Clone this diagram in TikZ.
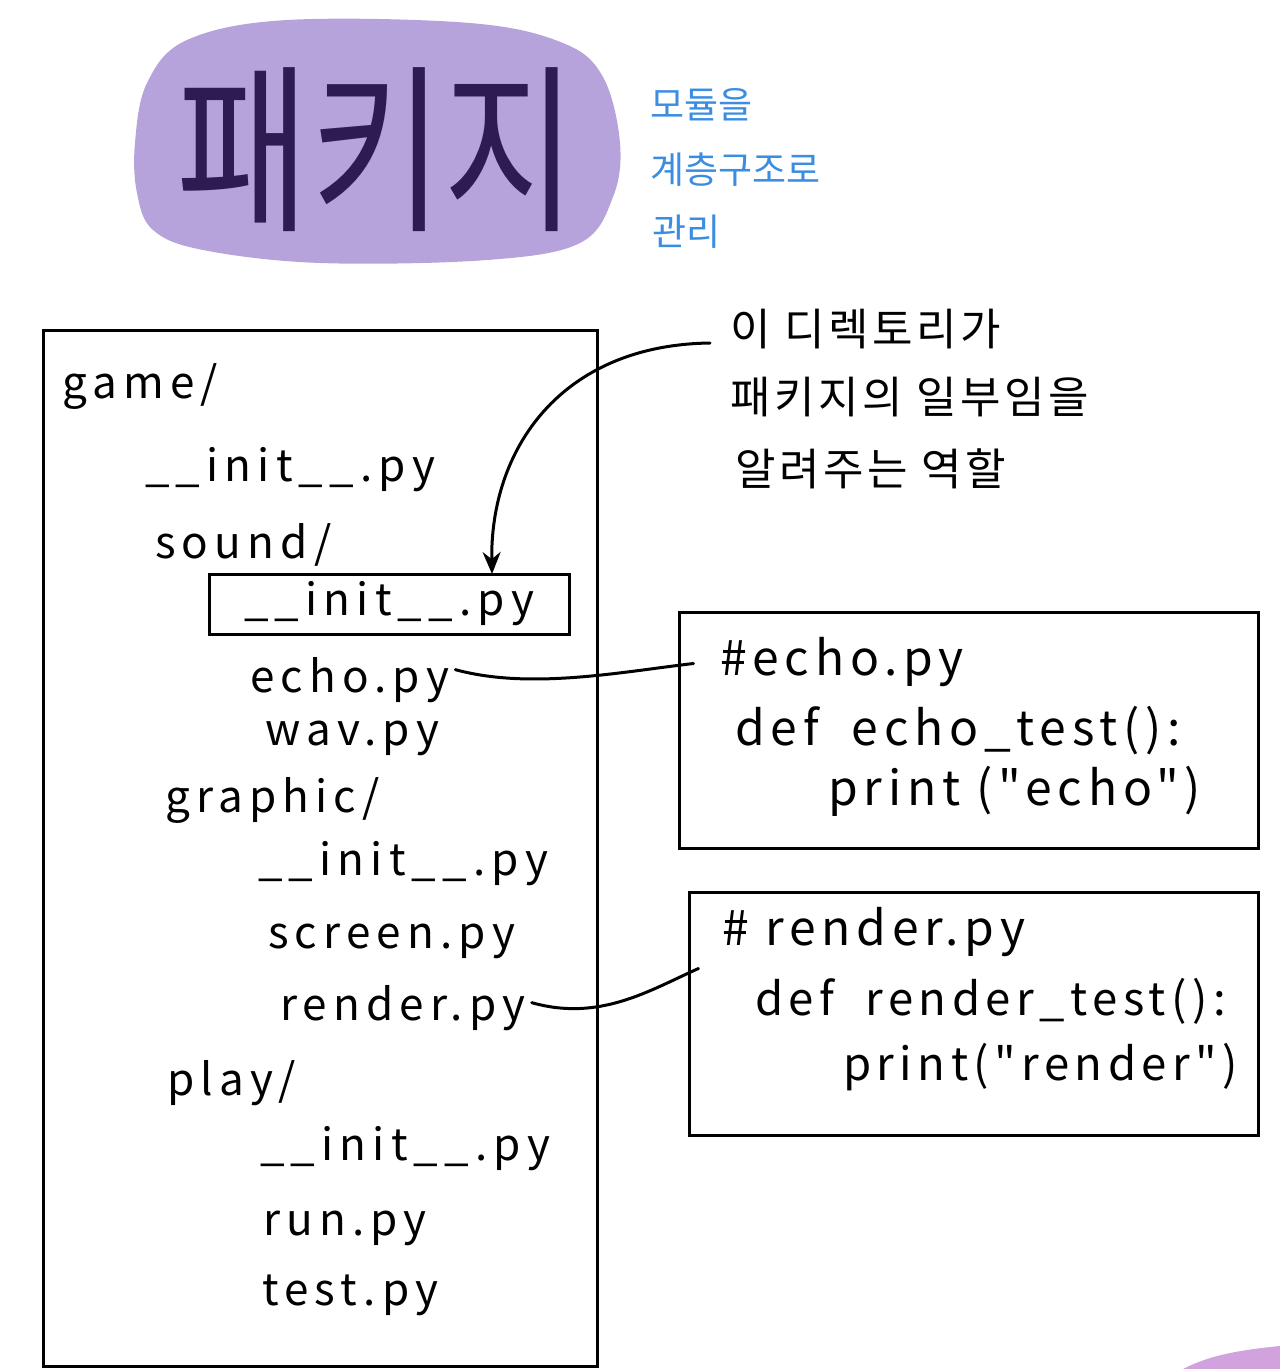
\documentclass[tikz,border=0pt]{standalone}
\usepackage{fontspec}
\usepackage{graphicx}
\setmainfont{Noto Sans CJK KR}
\newfontfamily\handfont[LetterSpace=14,Ligatures=TeXOff]{Noto Sans CJK KR}
\newfontfamily\codefont[LetterSpace=12,Ligatures=TeXOff]{Noto Sans CJK KR}
\newfontfamily\notefont[LetterSpace=8]{Noto Sans CJK KR}
\usetikzlibrary{arrows.meta,calc}
\definecolor{blobpurple}{HTML}{B7A3DC}
\definecolor{titleink}{HTML}{2D1B52}
\definecolor{noteblue}{HTML}{3A8DE0}
\definecolor{cornerblob}{HTML}{D2A2DE}
\tikzset{
  file/.style={anchor=base west, inner sep=0pt, font=\handfont\fontsize{44}{50}\selectfont},
  code/.style={anchor=base west, inner sep=0pt, font=\codefont\fontsize{48}{56}\selectfont},
  codesmall/.style={anchor=base west, inner sep=0pt, font=\codefont\fontsize{45.5}{52}\selectfont},
  note/.style={anchor=base west, inner sep=0pt, font=\notefont\fontsize{44}{50}\selectfont},
  bluenote/.style={anchor=base west, inner sep=0pt, text=noteblue, font=\fontsize{37}{42}\selectfont},
  boxed/.style={draw, line width=3pt, inner sep=0pt},
  link/.style={line width=3pt, black, line cap=round},
}
\begin{document}
\begin{tikzpicture}[x=1pt,y=-1pt]
\useasboundingbox (0,0) rectangle (1280,1369);
% title blob
\fill[blobpurple] plot[smooth cycle, tension=0.6] coordinates {
 (187,40) (287,20) (470,23) (563,43) (603,77) (620,143) (613,197) (580,243)
 (487,260) (320,263) (203,250) (153,230) (137,193) (135,143) (147,83)};
\node[text=titleink, font=\fontsize{145}{150}\selectfont, inner sep=0pt] (title) at (377,150) {\scalebox{1}[1.25]{패키지}};
% corner blob
\fill[cornerblob] (1183,1369) .. controls (1210,1355) and (1240,1350) .. (1280,1346) -- (1280,1369) -- cycle;
% blue note
\node[bluenote] (b1) at (650,118) {모듈을};
\node[bluenote] (b2) at (650,183) {계층구조로};
\node[bluenote] (b3) at (652,245) {관리};
% main box
\node[boxed, minimum width=554pt, minimum height=1036pt] (mainbox) at (320,848) {};
\node[file] (game) at (62,398) {game/};
\node[file] (init1) at (145,481) {\_\_init\_\_.py};
\node[file] (sound) at (155,558) {sound/};
\node[boxed, minimum width=360pt, minimum height=60pt, font=\handfont\fontsize{44}{50}\selectfont] (init2) at (389,604) {\_\_init\_\_.py};
\node[file] (echo) at (250,692) {echo.py};
\node[file] (wav) at (265,745) {wav.py};
\node[file] (graphic) at (165,812) {graphic/};
\node[file] (init3) at (258,875) {\_\_init\_\_.py};
\node[file] (screen) at (268,948) {screen.py};
\node[file] (render) at (280,1020) {render.py};
\node[file] (play) at (167,1095) {play/};
\node[file] (init4) at (260,1160) {\_\_init\_\_.py};
\node[file] (run) at (263,1235) {run.py};
\node[file] (test) at (262,1305) {test.py};
% annotation
\node[note] (n1) at (730,345) {이 디렉토리가};
\node[note] (n2) at (730,413) {패키지의 일부임을};
\node[note] (n3) at (735,485) {알려주는 역할};
\coordinate (arrowstart) at (710,343);
\coordinate (arrowend) at (492,574);
\draw[link, -{Stealth[length=22pt,width=18pt]}] (arrowstart) .. controls (560,345) and (490,450) .. (arrowend);
% echo box
\node[boxed, minimum width=579pt, minimum height=236pt] (echobox) at (968.5,730) {};
\node[code] (e1) at (720,675) {\#echo.py};
\node[code] (e2) at (735,745) {def \ echo\_test():};
\node[code] (e3) at (828,805) {print ("echo")};
\draw[link] (echo.east) ++(6,-10) .. controls (530,690) and (620,672) .. ($(echobox.north west)+(16,53)$);
% render box
\node[boxed, minimum width=569pt, minimum height=243pt] (renderbox) at (973.5,1013.5) {};
\node[code] (r1) at (722,945) {\# render.py};
\node[codesmall] (r2) at (755,1015) {def \ render\_test():};
\node[codesmall] (r3) at (843,1080) {print("render")};
\draw[link] (render.east) ++(6,-5) .. controls (600,1022) and (650,990) .. ($(renderbox.north west)+(11,78)$);
\end{tikzpicture}
\end{document}
